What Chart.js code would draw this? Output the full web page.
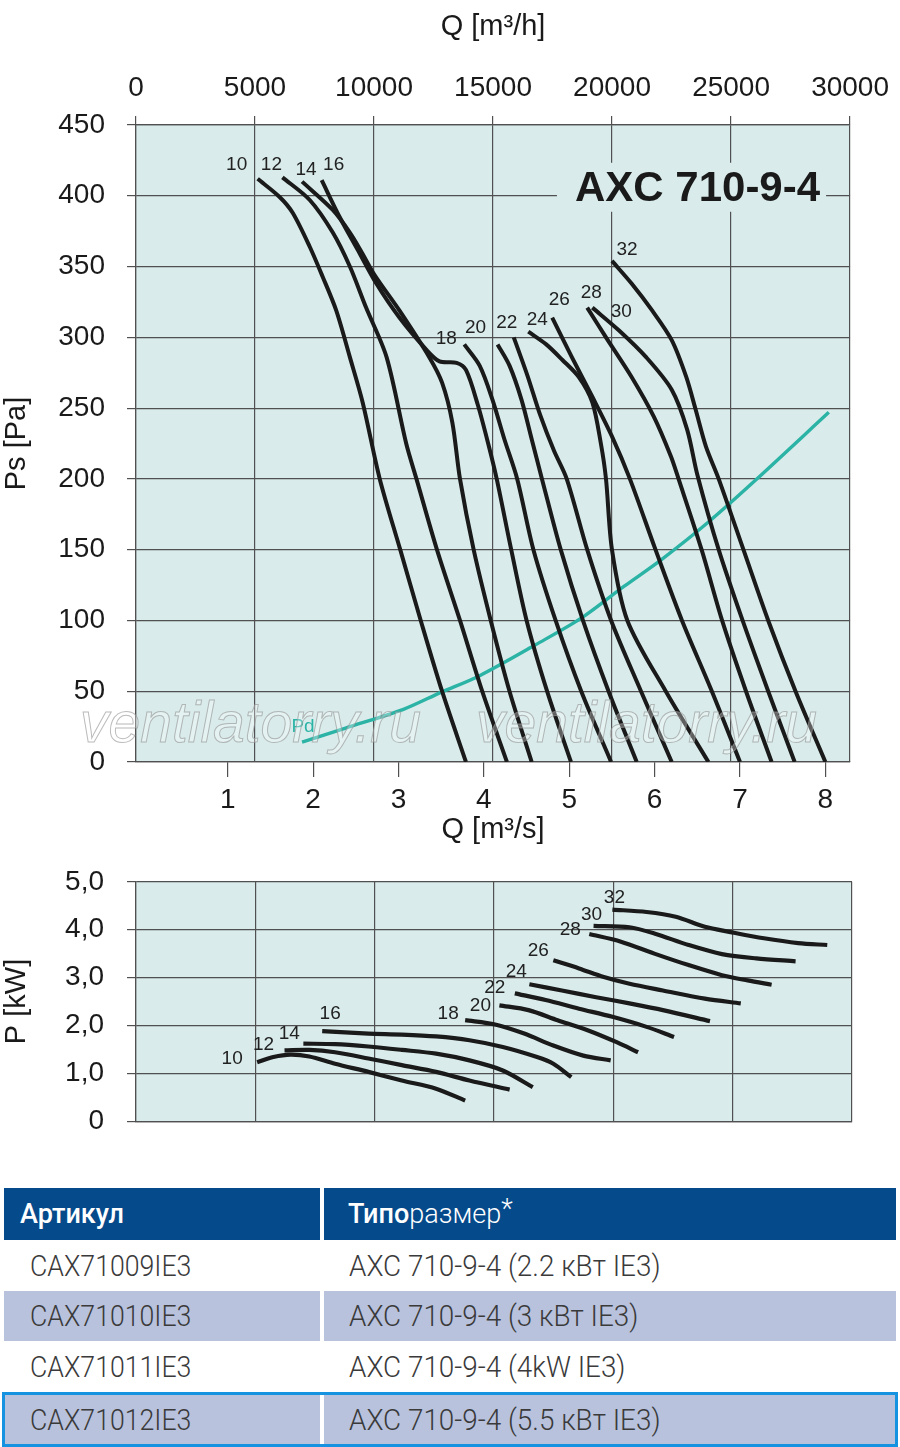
<!DOCTYPE html>
<html>
<head>
<meta charset="utf-8">
<script src="https://cdn.jsdelivr.net/npm/chart.js@4.4.1/dist/chart.umd.min.js"></script>
<style>
  body { margin:0; width:900px; height:1447px; background:#fff; overflow:hidden; position:relative; }
  canvas { position:absolute; left:0; }
  #ps { top:0; }
  #pw { top:842px; }
  .tbl { position:absolute; left:0; top:1188px; width:900px; height:259px;
         font-family:Roboto, "Liberation Sans", Arial, sans-serif; }
  .r { position:absolute; left:4px; width:892px; }
  .cell { position:absolute; top:0; bottom:0; display:flex; align-items:center; box-sizing:border-box;
          font-size:29px; font-weight:300; color:#3a3a3a; white-space:nowrap; }
  .cell span { display:inline-block; transform-origin:left center; }
  .c1 { left:0; width:316px; padding-left:26px; }
  .c1 span { transform:scaleX(0.92); }
  .c2 { left:320px; width:572px; padding-left:25px; }
  .c2 span { transform:scaleX(0.96); }
  .hd .cell { background:#054a8b; color:#fff; font-size:27px; font-weight:300; }
  .hd .cell span { transform:none; }
  .hd .c1 { padding-left:16px; font-weight:500; }
  .hd .c2 { padding-left:24px; }
  .hd b { font-weight:500; }
  .hd i { font-style:normal; position:relative; top:-5px; }
  .alt .cell { background:#b8c2dd; }
  .sel { position:absolute; left:2px; top:204px; width:896px; height:55px; box-sizing:border-box;
         border:3px solid #1592e0; }
</style>
</head>
<body>
<canvas id="ps" width="900" height="850"></canvas>
<canvas id="pw" width="900" height="319"></canvas>

<div class="tbl">
  <div class="r hd" style="top:0;height:52px">
    <div class="cell c1"><span>Артикул</span></div>
    <div class="cell c2"><span><b>Типо</b>размер<i>*</i></span></div>
  </div>
  <div class="r" style="top:52px;height:51px">
    <div class="cell c1"><span>CAX71009IE3</span></div>
    <div class="cell c2"><span>AXC 710-9-4 (2.2 кВт IE3)</span></div>
  </div>
  <div class="r alt" style="top:103px;height:50px">
    <div class="cell c1"><span>CAX71010IE3</span></div>
    <div class="cell c2"><span>AXC 710-9-4 (3 кВт IE3)</span></div>
  </div>
  <div class="r" style="top:153px;height:51px">
    <div class="cell c1"><span>CAX71011IE3</span></div>
    <div class="cell c2"><span>AXC 710-9-4 (4kW IE3)</span></div>
  </div>
  <div class="r alt" style="top:206px;height:51px">
    <div class="cell c1"><span>CAX71012IE3</span></div>
    <div class="cell c2"><span>AXC 710-9-4 (5.5 кВт IE3)</span></div>
  </div>
  <div class="sel"></div>
</div>

<script>
const FONT = '"Liberation Sans", Arial, sans-serif';

// blade angles (curve tags)
const angles = ['10', '12', '14', '16', '18', '20', '22', '24', '26', '28', '30', '32'];

// axis ticks
const flowTicksH = [0, 5000, 10000, 15000, 20000, 25000, 30000]; // m3/h
const flowTicksS = [1, 2, 3, 4, 5, 6, 7, 8];                      // m3/s

// static pressure curves: Q [m3/s] and Ps [Pa]
const psQ10 = [1.35, 1.61, 1.76, 1.96, 2.11, 2.27, 2.43, 2.58, 2.78, 3.02, 3.26, 3.51, 3.79];
const psPa10 = [412, 399, 388, 364, 343, 319, 286, 254, 200, 150, 100, 50, 0];
const psQ12 = [1.64, 1.96, 2.23, 2.43, 2.62, 2.86, 3.09, 3.21, 3.45, 3.72, 3.98, 4.27];
const psPa12 = [413, 397, 374, 350, 321, 286, 225, 200, 150, 100, 50, 0];
const psQ14 = [1.87, 2.23, 2.43, 2.57, 2.72, 3.01, 3.36, 3.51, 3.63, 3.72, 3.88, 4.08, 4.30, 4.56];
const psPa14 = [410, 390, 374, 360, 344, 319, 286, 268, 240, 200, 150, 100, 50, 0];
const psQ16 = [2.10, 2.31, 2.52, 2.74, 3.01, 3.33, 3.48, 3.68, 3.79, 3.93, 4.05, 4.15, 4.32, 4.50, 4.74, 5.02];
const psPa16 = [411, 385, 362, 338, 314, 291, 283, 282, 277, 252, 225, 200, 150, 100, 50, 0];
const psQ18 = [3.77, 3.95, 4.10, 4.24, 4.39, 4.58, 4.84, 5.14, 5.49];
const psPa18 = [295, 280, 256, 228, 200, 150, 100, 50, 0];
const psQ20 = [4.16, 4.30, 4.44, 4.56, 4.68, 4.90, 5.16, 5.46, 5.79];
const psPa20 = [295, 280, 256, 228, 200, 150, 100, 50, 0];
const psQ22 = [4.35, 4.51, 4.66, 4.82, 4.97, 5.21, 5.49, 5.84, 6.20];
const psPa22 = [300, 273, 245, 220, 200, 150, 100, 50, 0];
const psQ24 = [4.52, 4.73, 4.92, 5.11, 5.27, 5.37, 5.43, 5.50, 5.68, 6.13, 6.63];
const psPa24 = [304, 295, 284, 272, 254, 225, 200, 150, 100, 50, 0];
const psQ26 = [4.80, 5.03, 5.27, 5.50, 5.71, 6.01, 6.32, 6.67, 7.00];
const psPa26 = [314, 286, 258, 230, 200, 150, 100, 50, 0];
const psQ28 = [5.21, 5.43, 5.73, 5.99, 6.19, 6.28, 6.55, 6.79, 7.07, 7.37];
const psPa28 = [321, 300, 272, 244, 216, 200, 150, 100, 50, 0];
const psQ30 = [5.27, 5.58, 5.90, 6.20, 6.38, 6.50, 6.75, 7.03, 7.33, 7.64];
const psPa30 = [321, 305, 286, 263, 235, 203, 150, 100, 50, 0];
const psQ32 = [5.50, 5.73, 5.97, 6.20, 6.37, 6.48, 6.60, 6.75, 7.04, 7.33, 7.65, 8.00];
const psPa32 = [354, 338, 319, 298, 272, 249, 223, 200, 150, 100, 50, 0];

// dynamic pressure Pd
const pdQ = [1.87, 2.38, 3.05, 3.49, 3.95, 4.61, 5.15, 5.64, 6.08, 6.62, 7.18, 8.04];
const pdPa = [14, 24, 37, 49, 61, 83, 102, 124, 143, 169, 199, 247];

// power curves: Q [m3/s] and P [kW]
const pQ10 = [1.34, 1.53, 1.73, 1.95, 2.25, 2.64, 3.03, 3.43, 3.77];
const pKw10 = [1.23, 1.34, 1.39, 1.35, 1.20, 1.03, 0.85, 0.68, 0.43];
const pQ12 = [1.66, 1.95, 2.25, 2.64, 3.03, 3.43, 3.82, 4.29];
const pKw12 = [1.48, 1.49, 1.44, 1.31, 1.17, 1.03, 0.85, 0.66];
const pQ14 = [1.88, 2.25, 2.64, 3.03, 3.43, 3.82, 4.21, 4.56];
const pKw14 = [1.62, 1.61, 1.56, 1.49, 1.41, 1.27, 1.06, 0.71];
const pQ16 = [2.10, 2.64, 3.03, 3.43, 3.82, 4.21, 4.61, 4.80, 5.01];
const pKw16 = [1.88, 1.83, 1.81, 1.77, 1.69, 1.55, 1.34, 1.20, 0.92];
const pQ18 = [3.77, 4.12, 4.46, 4.80, 5.15, 5.47];
const pKw18 = [2.11, 2.02, 1.83, 1.58, 1.37, 1.27];
const pQ20 = [4.17, 4.51, 4.85, 5.20, 5.54, 5.79];
const pKw20 = [2.42, 2.32, 2.11, 1.90, 1.65, 1.44];
const pQ22 = [4.35, 4.71, 5.10, 5.49, 5.89, 6.21];
const pKw22 = [2.67, 2.53, 2.35, 2.18, 1.97, 1.76];
const pQ24 = [4.52, 4.90, 5.30, 5.69, 6.08, 6.63];
const pKw24 = [2.86, 2.73, 2.59, 2.46, 2.32, 2.09];
const pQ26 = [4.80, 5.10, 5.39, 5.69, 6.08, 6.57, 6.99];
const pKw26 = [3.36, 3.19, 3.01, 2.87, 2.73, 2.56, 2.46];
const pQ28 = [5.22, 5.59, 5.98, 6.38, 6.77, 7.07, 7.35];
const pKw28 = [3.91, 3.75, 3.50, 3.26, 3.05, 2.94, 2.85];
const pQ30 = [5.27, 5.69, 5.98, 6.38, 6.77, 7.17, 7.63];
const pKw30 = [4.08, 4.05, 3.92, 3.68, 3.49, 3.40, 3.34];
const pQ32 = [5.49, 5.89, 6.23, 6.57, 6.87, 7.26, 7.66, 8.00];
const pKw32 = [4.42, 4.37, 4.27, 4.06, 3.95, 3.82, 3.72, 3.68];

// where each tag sits relative to the start of its curve (px)
const psTagOffsets = [[-21, -14], [-11, -13], [4, -12], [12, -15], [-18, -6], [-22, -17],
                      [-7, -15], [9, -12], [7, -18], [4, -15], [29, 4], [15, -11]];
const pTagOffsets = [[-25, -4], [-21, -6], [-14, -10], [8, -17], [-17, -6], [-19, 0],
                     [-20, -6], [-13, -12], [-15, -10], [-19, -4], [-2, -11], [2, -12]];

const PLOT_BG = '#d9eceb';
const GRID = '#505050';
const INK = '#1a1a1a';
const TEAL = '#2bb3a6';

const psSeries = [[psQ10, psPa10], [psQ12, psPa12], [psQ14, psPa14], [psQ16, psPa16],
                  [psQ18, psPa18], [psQ20, psPa20], [psQ22, psPa22], [psQ24, psPa24],
                  [psQ26, psPa26], [psQ28, psPa28], [psQ30, psPa30], [psQ32, psPa32]];
const pSeries = [[pQ10, pKw10], [pQ12, pKw12], [pQ14, pKw14], [pQ16, pKw16],
                 [pQ18, pKw18], [pQ20, pKw20], [pQ22, pKw22], [pQ24, pKw24],
                 [pQ26, pKw26], [pQ28, pKw28], [pQ30, pKw30], [pQ32, pKw32]];

const toPoints = (xs, ys) => xs.map((x, i) => ({ x: x, y: ys[i] }));

const curveStyle = {
  showLine: true, pointRadius: 0, borderColor: INK, borderWidth: 4,
  tension: 0.3, fill: false, xAxisID: 'x', yAxisID: 'y'
};

// paint plot background
const plotBg = {
  id: 'plotBg',
  beforeDraw(chart) {
    const { ctx, chartArea: a } = chart;
    ctx.save();
    ctx.fillStyle = PLOT_BG;
    ctx.fillRect(a.left, a.top, a.width, a.height);
    ctx.restore();
  }
};

// curve tags next to first point
const tags = {
  id: 'tags',
  afterDatasetsDraw(chart) {
    const ctx = chart.ctx;
    ctx.save();
    ctx.font = '19px ' + FONT;
    ctx.textAlign = 'center';
    ctx.textBaseline = 'middle';
    chart.data.datasets.forEach((ds, i) => {
      if (!ds.tagOffset) return;
      const pt = chart.getDatasetMeta(i).data[0];
      ctx.fillStyle = ds.tagColor || '#222';
      ctx.fillText(ds.label, pt.x + ds.tagOffset[0], pt.y + ds.tagOffset[1]);
    });
    ctx.restore();
  }
};

// model name box and site watermark
const stamp = {
  id: 'stamp',
  afterDatasetsDraw(chart) {
    const { ctx, chartArea: a, scales } = chart;
    const wm = 'ventilatorry.ru';
    ctx.save();
    ctx.font = 'italic 57px ' + FONT;
    ctx.textAlign = 'left';
    ctx.textBaseline = 'alphabetic';
    ctx.lineWidth = 1;
    ctx.fillStyle = 'rgba(255,255,255,0.3)';
    ctx.strokeStyle = 'rgba(150,150,150,0.65)';
    [a.left - 56, a.left + 340].forEach(x => {
      ctx.fillText(wm, x, a.bottom - 20);
      ctx.strokeText(wm, x, a.bottom - 20);
    });

    const name = 'AXC 710-9-4';
    ctx.font = 'bold 42px ' + FONT;
    const w = ctx.measureText(name).width;
    const x = a.right - 30 - w;
    const y = scales.y.getPixelForValue(400);
    ctx.fillStyle = PLOT_BG;
    ctx.fillRect(x - 18, y - 33, w + 24, 49);
    ctx.fillStyle = INK;
    ctx.textBaseline = 'middle';
    ctx.fillText(name, x, y - 6);
    ctx.restore();
  }
};

const tickFont = { size: 28, family: FONT };
const titleFont = { size: 29, family: FONT };

// ---- Ps chart ----
const psData = psSeries.map((s, i) => Object.assign({}, curveStyle, {
  label: angles[i], data: toPoints(s[0], s[1]), tagOffset: psTagOffsets[i]
}));
psData.push(Object.assign({}, curveStyle, {
  label: 'Pd', data: toPoints(pdQ, pdPa), borderColor: TEAL, borderWidth: 3.4,
  tagOffset: [1, -15], tagColor: TEAL
}));

new Chart(document.getElementById('ps'), {
  type: 'scatter',
  data: { datasets: psData },
  plugins: [plotBg, tags, stamp],
  options: {
    responsive: false, animation: false, devicePixelRatio: 1,
    layout: { padding: { left: 0, right: 48, top: 0, bottom: 0 } },
    plugins: { legend: { display: false }, tooltip: { enabled: false } },
    scales: {
      x: {
        type: 'linear', position: 'bottom', min: -0.075, max: 8.289,
        afterBuildTicks: s => { s.ticks = flowTicksS.map(v => ({ value: v })); },
        grid: { drawOnChartArea: false, drawTicks: true, tickLength: 15, color: GRID, lineWidth: 1.2 },
        border: { display: true, color: GRID, width: 1.2 },
        ticks: { font: tickFont, color: INK, padding: 6, maxRotation: 0, autoSkip: false },
        title: { display: true, text: 'Q [m³/s]', font: titleFont, color: INK, padding: { top: 0, bottom: 3 } },
        afterFit: s => { s.height = 88; }
      },
      x2: {
        type: 'linear', position: 'top', min: 0, max: 30000,
        afterBuildTicks: s => { s.ticks = flowTicksH.map(v => ({ value: v })); },
        grid: { color: GRID, lineWidth: 1.2, tickLength: 9 },
        border: { display: true, color: GRID, width: 1.2 },
        ticks: { font: tickFont, color: INK, padding: 11, maxRotation: 0, autoSkip: false, callback: v => String(v) },
        title: { display: true, text: 'Q [m³/h]', font: titleFont, color: INK, padding: { top: 10, bottom: 0 } },
        afterFit: s => { s.height = 125; }
      },
      y: {
        type: 'linear', min: 0, max: 450,
        grid: { color: GRID, lineWidth: 1.2, tickLength: 9 },
        border: { display: true, color: GRID, width: 1.2 },
        ticks: { stepSize: 50, font: tickFont, color: INK, padding: 22 },
        title: { display: true, text: 'Ps [Pa]', font: titleFont, color: INK, padding: { top: 0, bottom: 0 } },
        afterFit: s => { s.width = 136; }
      }
    }
  }
});

// ---- P chart ----
const pData = pSeries.map((s, i) => Object.assign({}, curveStyle, {
  label: angles[i], data: toPoints(s[0], s[1]), tagOffset: pTagOffsets[i], borderWidth: 4.2
}));

new Chart(document.getElementById('pw'), {
  type: 'scatter',
  data: { datasets: pData },
  plugins: [plotBg, tags],
  options: {
    responsive: false, animation: false, devicePixelRatio: 1,
    layout: { padding: { left: 0, right: 48, top: 0, bottom: 0 } },
    plugins: { legend: { display: false }, tooltip: { enabled: false } },
    scales: {
      x: { type: 'linear', min: -0.075, max: 8.289, display: false },
      x2: {
        type: 'linear', position: 'bottom', min: 0, max: 30000,
        afterBuildTicks: s => { s.ticks = flowTicksH.map(v => ({ value: v })); },
        grid: { color: GRID, lineWidth: 1.2, drawTicks: false },
        border: { display: true, color: GRID, width: 1.2 },
        ticks: { display: false },
        afterFit: s => { s.height = 0; }
      },
      y: {
        type: 'linear', min: 0, max: 5,
        grid: { color: GRID, lineWidth: 1.2, tickLength: 9 },
        border: { display: true, color: GRID, width: 1.2 },
        ticks: {
          stepSize: 1, font: tickFont, color: INK, padding: 23,
          callback: v => v === 0 ? '0' : v.toFixed(1).replace('.', ',')
        },
        title: { display: true, text: 'P [kW]', font: titleFont, color: INK, padding: { top: 0, bottom: 0 } },
        afterFit: s => { s.width = 136; }
      }
    }
  }
});
</script>
</body>
</html>
